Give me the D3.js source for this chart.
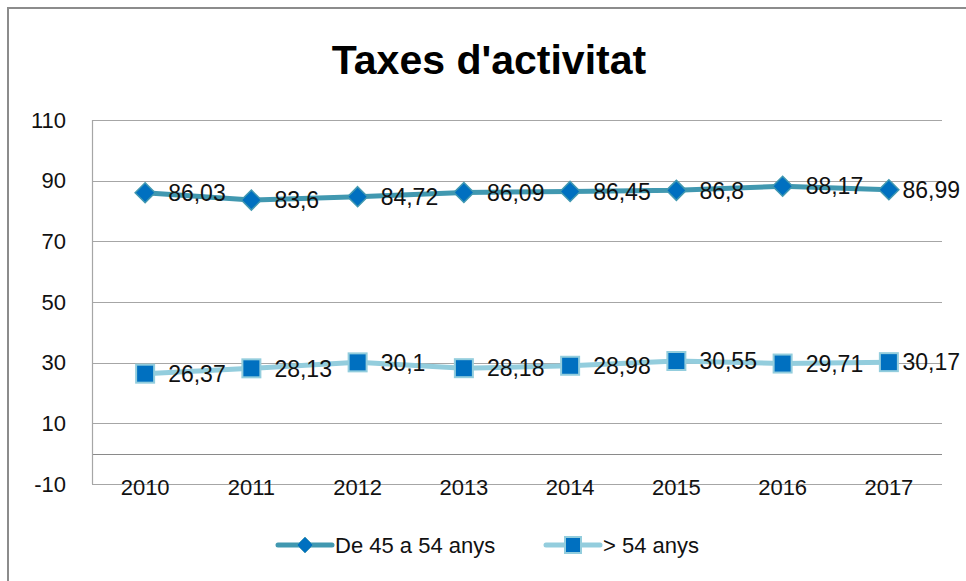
<!DOCTYPE html>
<html>
<head>
<meta charset="utf-8">
<script src="https://cdn.jsdelivr.net/npm/d3@7"></script>
<style>
  body { margin: 0; background: #fff; }
  svg { display: block; }
</style>
</head>
<body>
<svg width="966" height="581"></svg>
<script>
const years = ['2010', '2011', '2012', '2013', '2014', '2015', '2016', '2017'];
const de45a54 = [86.03, 83.6, 84.72, 86.09, 86.45, 86.8, 88.17, 86.99];
const mes54 = [26.37, 28.13, 30.1, 28.18, 28.98, 30.55, 29.71, 30.17];
const yTicks = [-10, 10, 30, 50, 70, 90, 110];
const seriesNames = ['De 45 a 54 anys', '> 54 anys'];

const svg = d3.select('svg');
const font = '"Liberation Sans", Arial, sans-serif';

const plot = {left: 92, right: 942, top: 120, bottom: 484};

const x = d3.scaleBand()
  .domain(years)
  .range([plot.left, plot.right]);

const y = d3.scaleLinear()
  .domain([-10, 110])
  .range([plot.bottom, plot.top]);

// outer frame: only top and left edges are in the picture
svg.append('path')
  .attr('d', 'M8,581V8H966')
  .attr('fill', 'none')
  .attr('stroke', '#8c8c8c')
  .attr('stroke-width', 2);

svg.append('text')
  .attr('x', 489).attr('y', 74)
  .attr('text-anchor', 'middle')
  .style('font-family', font)
  .style('font-weight', 'bold')
  .style('font-size', '41px')
  .text("Taxes d'activitat");

// gridlines (0 is the category axis)
svg.append('g')
  .selectAll('line')
  .data(yTicks.concat([0]))
  .enter()
  .append('line')
  .attr('x1', plot.left).attr('x2', plot.right)
  .attr('y1', d => Math.round(y(d)) + 0.5)
  .attr('y2', d => Math.round(y(d)) + 0.5)
  .attr('stroke', d => d === 0 ? '#8a8a8a' : '#a6a6a6')
  .attr('stroke-width', 1.2);

svg.append('line')
  .attr('x1', plot.left + 0.5).attr('x2', plot.left + 0.5)
  .attr('y1', plot.top).attr('y2', plot.bottom)
  .attr('stroke', '#a6a6a6')
  .attr('stroke-width', 1.2);

// y axis
const yAxis = svg.append('g')
  .attr('transform', `translate(${plot.left},0)`)
  .call(d3.axisLeft(y).tickValues(yTicks).tickFormat(d => String(d)).tickSize(0).tickPadding(26));
yAxis.select('.domain').remove();
yAxis.selectAll('text')
  .style('font-family', font)
  .style('font-size', '22px')
  .attr('fill', '#111');

// x axis
const xAxis = svg.append('g')
  .attr('transform', `translate(0,${plot.bottom})`)
  .call(d3.axisBottom(x).tickSize(0).tickPadding(0));
xAxis.select('.domain').remove();
xAxis.selectAll('text')
  .attr('dy', '0.5em')
  .style('font-family', font)
  .style('font-size', '22px')
  .attr('fill', '#111');

const cx = (d, i) => x(years[i]) + x.bandwidth() / 2;
const line = d3.line().x(cx).y(d => y(d));

const series = [
  {name: seriesNames[0], values: de45a54, stroke: '#4198b0', marker: 'diamond'},
  {name: seriesNames[1], values: mes54, stroke: '#93cddd', marker: 'square'}
];

const diamond = 'M0,-10L10,0L0,10L-10,0Z';

series.forEach(s => {
  const g = svg.append('g');
  g.append('path')
    .datum(s.values)
    .attr('d', line)
    .attr('fill', 'none')
    .attr('stroke', s.stroke)
    .attr('stroke-width', 5)
    .attr('stroke-linejoin', 'round');

  const m = g.selectAll('.m')
    .data(s.values)
    .enter()
    .append('g')
    .attr('transform', (d, i) => `translate(${cx(d, i)},${y(d)})`);

  if (s.marker === 'diamond') {
    m.append('path')
      .attr('d', diamond)
      .attr('fill', '#0070c0')
      .attr('stroke', '#4198b0')
      .attr('stroke-width', 1.5);
  } else {
    m.append('rect')
      .attr('x', -9).attr('y', -9)
      .attr('width', 18).attr('height', 18)
      .attr('fill', '#0070c0')
      .attr('stroke', '#93cddd')
      .attr('stroke-width', 2);
  }

  m.append('text')
    .attr('x', 23)
    .attr('dy', '0.36em')
    .style('font-family', font)
    .style('font-size', '23px')
    .attr('fill', '#111')
    .text(d => String(d).replace('.', ','))
    .each(function(d, i) {
      // keep the label inside the picture, like Excel does for the last point
      const w = this.getComputedTextLength();
      const over = cx(d, i) + 23 + w - 960;
      if (over > 0) d3.select(this).attr('x', 23 - over);
    });
});

// legend
const legend = svg.append('g')
  .attr('transform', 'translate(0,545)');

const items = [
  {x: 278, width: 54, s: series[0], tx: 335},
  {x: 546, width: 54, s: series[1], tx: 603}
];

items.forEach(it => {
  legend.append('line')
    .attr('x1', it.x).attr('x2', it.x + it.width)
    .attr('stroke', it.s.stroke)
    .attr('stroke-width', 5)
    .attr('stroke-linecap', 'round');
  const mx = it.x + it.width / 2;
  if (it.s.marker === 'diamond') {
    legend.append('path')
      .attr('transform', `translate(${mx},0) scale(0.8)`)
      .attr('d', diamond)
      .attr('fill', '#0070c0')
      .attr('stroke', '#4198b0');
  } else {
    legend.append('rect')
      .attr('x', mx - 8).attr('y', -8)
      .attr('width', 16).attr('height', 16)
      .attr('fill', '#0070c0')
      .attr('stroke', '#93cddd')
      .attr('stroke-width', 2);
  }
  legend.append('text')
    .attr('x', it.tx)
    .attr('dy', '0.36em')
    .style('font-family', font)
    .style('font-size', '22px')
    .attr('fill', '#111')
    .text(it.s.name);
});
</script>
</body>
</html>
